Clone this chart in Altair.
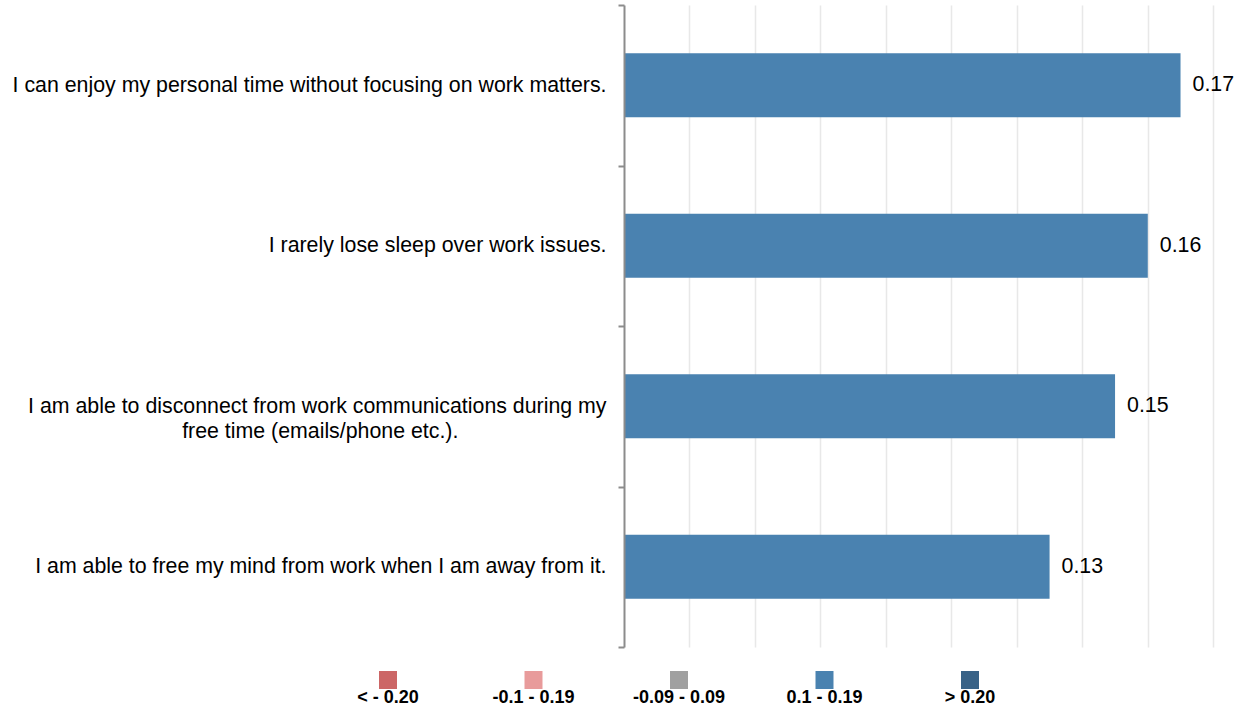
import altair as alt
import pandas as pd

# ---- data ----
statement_lines = [
    ["I can enjoy my personal time without focusing on work matters."],
    ["I rarely lose sleep over work issues."],
    ["I am able to disconnect from work communications during my",
     "free time (emails/phone etc.)." + "\u00a0" * 25 + "\u200b"],
    ["I am able to free my mind from work when I am away from it."],
]
values = [0.17, 0.16, 0.15, 0.13]
bar_bins = ["0.1 - 0.19", "0.1 - 0.19", "0.1 - 0.19", "0.1 - 0.19"]

legend_labels = ["< - 0.20", "-0.1 - 0.19", "-0.09 - 0.09", "0.1 - 0.19", "> 0.20"]
legend_colors = ["#cc6666", "#e89b9b", "#a0a0a0", "#4a82b0", "#386287"]

grid_values = [0.02, 0.04, 0.06, 0.08, 0.10, 0.12, 0.14, 0.16, 0.18]

statements = ["\n".join(l) for l in statement_lines]
df = pd.DataFrame({"statement": statements, "value": values, "bin": bar_bins})
leg = pd.DataFrame({"bin": legend_labels})

FONT = "Liberation Sans, Arial, Helvetica, sans-serif"

color = alt.Color("bin:N", scale=alt.Scale(domain=legend_labels, range=legend_colors), legend=None)
xscale = alt.Scale(domain=[0, 0.19], nice=False, zero=True)

yenc = alt.Y(
    "statement:N",
    sort=statements,
    scale=alt.Scale(paddingInner=0, paddingOuter=0),
    axis=alt.Axis(
        title=None,
        labelExpr="split(datum.label, '\\n')",
        labelFont=FONT,
        labelFontSize=21.33,
        labelColor="#000000",
        labelLimit=700,
        labelPadding=12,
        labelLineHeight=25,
        tickBand="extent",
        tickSize=6,
        tickColor="#8c8c8c",
        tickWidth=2,
        domainColor="#8c8c8c",
        domainWidth=2,
        grid=False,
        zindex=1,
    ),
)

bars = alt.Chart(df).mark_bar(height={"band": 0.4}).encode(
    x=alt.X(
        "value:Q",
        scale=xscale,
        axis=alt.Axis(
            title=None,
            values=grid_values,
            labels=False,
            ticks=False,
            domain=False,
            grid=True,
            gridColor="#e8e8e8",
            gridWidth=1.5,
        ),
    ),
    y=yenc,
    color=color,
)

texts = alt.Chart(df).mark_text(
    align="left", baseline="middle", dx=12, font=FONT, fontSize=21.33, color="#000000"
).encode(
    x=alt.X("value:Q", scale=xscale, axis=None),
    y=alt.Y("statement:N", sort=statements),
    text=alt.Text("value:Q", format=".2f"),
)

leg_x = alt.X(
    "bin:N",
    sort=legend_labels,
    scale=alt.Scale(domain=legend_labels, range=[-236, 346], padding=0),
    axis=None,
)

leg_sq = alt.Chart(leg).mark_square(size=324, opacity=1, filled=True).encode(
    x=leg_x,
    y=alt.value(675),
    color=color,
)

leg_txt = alt.Chart(leg).mark_text(
    align="center", baseline="middle", font=FONT, fontSize=18, fontWeight="bold", color="#000000"
).encode(
    x=leg_x,
    y=alt.value(693),
    text="bin:N",
)

chart = (
    alt.layer(bars, texts, leg_sq, leg_txt)
    .resolve_scale(x="independent")
    .properties(
        width=622,
        height=642,
        autosize=alt.AutoSizeParams(type="none"),
        padding={"left": 624, "top": 5, "right": 5, "bottom": 62},
        background="#ffffff",
    )
    .configure_view(stroke=None)
)

chart.save("out.html", embed_options={"renderer": "svg", "actions": False})
